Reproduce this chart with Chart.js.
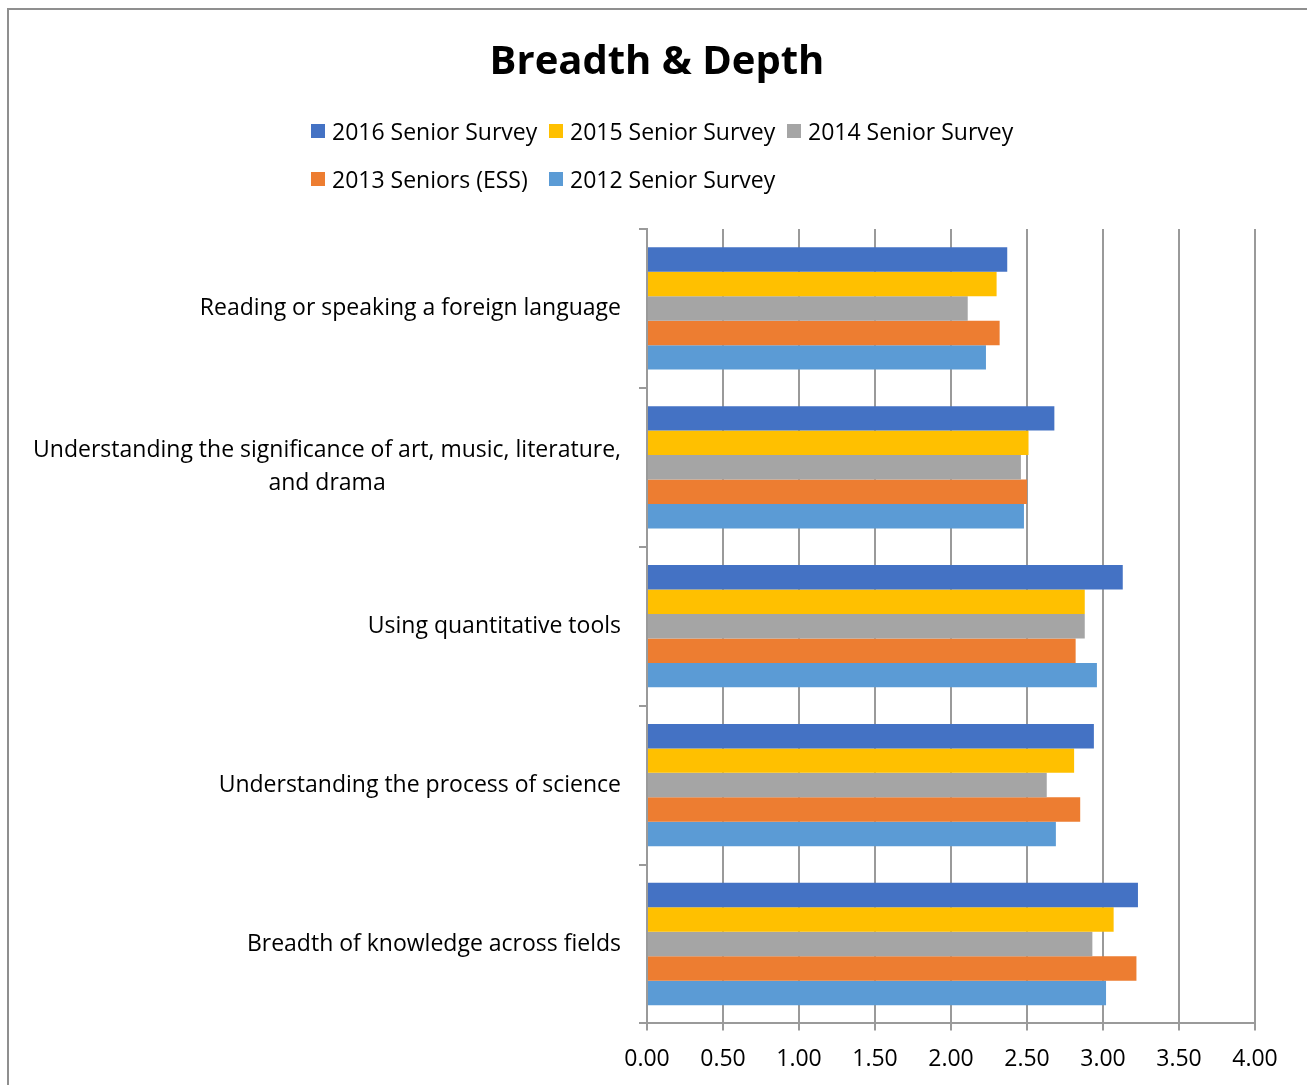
<!DOCTYPE html>
<html>
<head>
<meta charset="utf-8">
<title>Breadth & Depth</title>
<script src="https://cdn.jsdelivr.net/npm/chart.js@4.4.1/dist/chart.umd.min.js"></script>
<style>
  html, body { margin: 0; padding: 0; background: #fff; overflow: hidden; }
  body { width: 1307px; height: 1085px; position: relative; font-family: 'Open Sans', sans-serif; }
  .frame { position: absolute; left: 7px; top: 8px; width: 1400px; height: 1200px; border: 2px solid #8f8f8f; box-sizing: border-box; }
  .chart-wrap { position: absolute; left: 0; top: 0; width: 1307px; height: 1102px; }
  .legend { position: absolute; left: 311px; top: 107px; width: 730px; display: flex; flex-wrap: wrap; }
  .legend-item { display: flex; align-items: center; width: 238px; height: 48px; font-size: 23px; color: #000; white-space: nowrap; }
  .legend-box { width: 14px; height: 14px; margin-right: 7px; flex: none; }
</style>
</head>
<body>
<div class="frame"></div>
<div class="chart-wrap"><canvas id="bdChart"></canvas></div>
<div class="legend" id="legend"></div>

<script>
// ---- data ----
const categories = [
  'Reading or speaking a foreign language',
  ['Understanding the significance of art, music, literature,', 'and drama'],
  'Using quantitative tools',
  'Understanding the process of science',
  'Breadth of knowledge across fields'
];
const seriesNames = ['2016 Senior Survey', '2015 Senior Survey', '2014 Senior Survey', '2013 Seniors (ESS)', '2012 Senior Survey'];
const seriesColors = ['#4472C4', '#FFC000', '#A5A5A5', '#ED7D31', '#5B9BD5'];

const s2016 = [2.37, 2.68, 3.13, 2.94, 3.23];
const s2015 = [2.30, 2.51, 2.88, 2.81, 3.07];
const s2014 = [2.11, 2.46, 2.88, 2.63, 2.93];
const s2013 = [2.32, 2.50, 2.82, 2.85, 3.22];
const s2012 = [2.23, 2.48, 2.96, 2.69, 3.02];
const seriesValues = [s2016, s2015, s2014, s2013, s2012];

const xMin = 0, xMax = 4, xStep = 0.5;

const FONT = "'Open Sans', sans-serif";
const GRID = '#9a9a9a';

// category labels, Excel style: block right-aligned, lines centred inside it
const yLabelsPlugin = {
  id: 'yLabels',
  afterDraw(chart) {
    const y = chart.scales.y;
    const ctx = chart.ctx;
    ctx.save();
    ctx.font = `23px ${FONT}`;
    ctx.fillStyle = '#000';
    ctx.textAlign = 'center';
    ctx.textBaseline = 'middle';
    const right = y.right - 26;
    const lh = 33;
    categories.forEach((lab, i) => {
      const lines = Array.isArray(lab) ? lab : [lab];
      const widest = Math.max(...lines.map(l => ctx.measureText(l).width));
      const cx = right - widest / 2;
      const cy = y.getPixelForValue(i);
      const top = cy - (lines.length - 1) * lh / 2;
      lines.forEach((l, k) => ctx.fillText(l, cx, top + k * lh));
    });
    ctx.restore();
  }
};

const datasets = seriesNames.map((name, i) => ({
  label: name,
  data: seriesValues[i],
  backgroundColor: seriesColors[i],
  borderWidth: 0,
  categoryPercentage: 0.77,
  barPercentage: 1
}));

new Chart(document.getElementById('bdChart'), {
  type: 'bar',
  data: { labels: categories.map(c => Array.isArray(c) ? c.join(' ') : c), datasets },
  plugins: [yLabelsPlugin],
  options: {
    indexAxis: 'y',
    responsive: true,
    maintainAspectRatio: false,
    animation: false,
    layout: { padding: { left: 59, right: 52, top: 0, bottom: 14 } },
    plugins: {
      legend: { display: false },
      tooltip: { enabled: false },
      title: {
        display: true,
        text: 'Breadth & Depth',
        color: '#000',
        font: { family: FONT, size: 40, weight: 'bold' },
        padding: { top: 38.5, bottom: 142.5 }
      }
    },
    scales: {
      x: {
        min: xMin, max: xMax,
        ticks: {
          stepSize: xStep,
          color: '#000',
          font: { family: FONT, size: 23 },
          padding: 15,
          callback: v => Number(v).toFixed(2)
        },
        grid: { color: GRID, lineWidth: 2, tickLength: 7, drawTicks: true },
        border: { display: true, color: GRID, width: 2 }
      },
      y: {
        ticks: { display: false },
        grid: { drawOnChartArea: false, drawTicks: true, tickLength: 8, color: GRID, lineWidth: 2, offset: true },
        border: { display: true, color: GRID, width: 2 },
        afterFit: s => { s.width = 647 - 59; }
      }
    }
  }
});

// legend built from the same series lists
document.getElementById('legend').innerHTML = seriesNames.map((n, i) =>
  `<div class="legend-item"><span class="legend-box" style="background:${seriesColors[i]}"></span>${n}</div>`
).join('');
</script>
</body>
</html>
